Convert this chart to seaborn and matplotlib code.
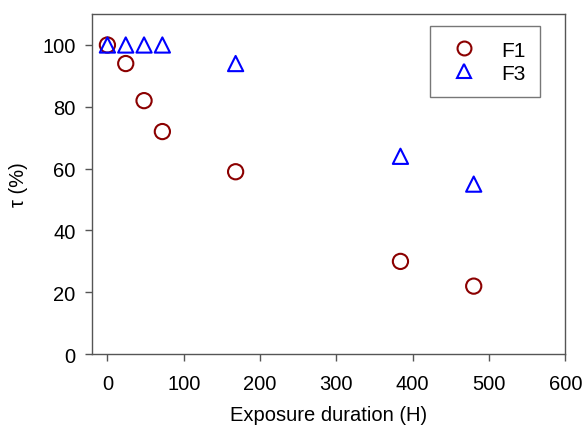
import pandas as pd
import seaborn as sns
import matplotlib.pyplot as plt

# exposure time (hours) and retention for each formulation
hours = [0, 24, 48, 72, 168, 384, 480]
f1 = [100, 94, 82, 72, 59, 30, 22]
f3 = [100, 100, 100, 100, 94, 64, 55]

df1 = pd.DataFrame({'hours': hours, 'tau': f1})
df3 = pd.DataFrame({'hours': hours, 'tau': f3})

sns.set_style('white')
plt.rcParams['font.family'] = ['Liberation Sans', 'DejaVu Sans']

fig = plt.figure(figsize=(5.87, 4.31), dpi=100)
ax = fig.add_axes([0.157, 0.176, 0.806, 0.789])

sns.scatterplot(data=df1, x='hours', y='tau', marker='o', s=120,
                facecolors='none', edgecolor='#8B0000', linewidth=1.5, ax=ax)
sns.scatterplot(data=df3, x='hours', y='tau', marker='^', s=120,
                facecolors='none', edgecolor='#0000FF', linewidth=1.5, ax=ax)
# make sure the markers stay open
ax.collections[0].set_facecolor('none')
ax.collections[0].set_edgecolor('#8B0000')
ax.collections[1].set_facecolor('none')
ax.collections[1].set_edgecolor('#0000FF')

ax.set_xlim(-20, 600)
ax.set_ylim(0, 110)
ax.set_xticks(range(0, 601, 100))
ax.set_yticks(range(0, 101, 20))
ax.tick_params(direction='out', length=5, width=1, colors='#555555',
               labelcolor='black', labelsize=14.5, bottom=True, left=True)
ax.tick_params(axis='x', pad=9)
ax.tick_params(axis='y', pad=7)
for sp in ax.spines.values():
    sp.set_color('#555555')
    sp.set_linewidth(1)

ax.set_xlabel('Exposure duration (H)', fontsize=14.5, labelpad=9, color='black')
ax.set_ylabel('τ (%)', fontsize=14.5, labelpad=10, color='black')

h1, = ax.plot([], [], 'o', mfc='none', mec='#8B0000', ms=10, mew=1.5, label='F1')
h3, = ax.plot([], [], '^', mfc='none', mec='#0000FF', ms=10, mew=1.5, label='F3')
leg = ax.legend(handles=[h1, h3], loc='upper right', bbox_to_anchor=(0.947, 0.965),
                fontsize=15, frameon=True, fancybox=False, borderpad=0.7,
                handletextpad=0.84, labelspacing=0.2, borderaxespad=0,
                handlelength=1.87)
leg.get_frame().set_edgecolor('#555555')
leg.get_frame().set_linewidth(1)
for t in leg.get_texts():
    t.set_color('black')

fig.savefig('out.png', dpi=100)
